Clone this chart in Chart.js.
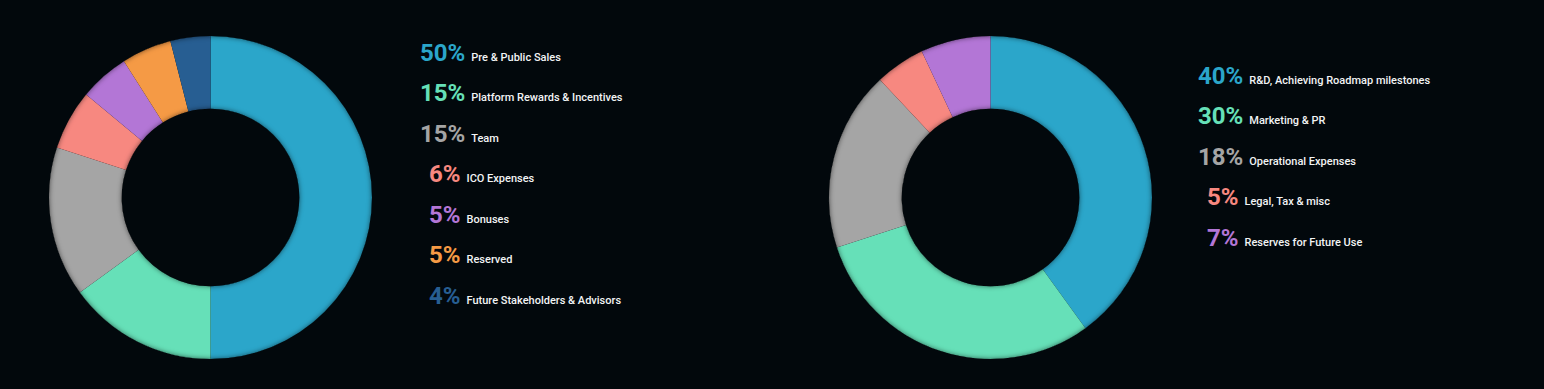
<!DOCTYPE html>
<html>
<head>
<meta charset="utf-8">
<script src="https://cdn.jsdelivr.net/npm/chart.js@4.4.0/dist/chart.umd.min.js"></script>
<style>
	html, body {
		margin: 0;
		padding: 0;
		background: #02080c;
		width: 1544px;
		height: 389px;
		overflow: hidden;
		font-family: Roboto, "Open Sans", sans-serif;
	}
	.donut {
		position: absolute;
		width: 343px;
		height: 343px;
	}
	.legend {
		position: absolute;
	}
	.row {
		height: 40.5px;
		line-height: 40.5px;
		white-space: nowrap;
	}
	.pct {
		font-size: 24px;
		font-weight: 700;
	}
	.row.single .pct {
		margin-left: 9px;
	}
	.lbl {
		font-size: 11px;
		font-weight: 500;
		color: #f2f4f5;
		margin-left: 6px;
	}
</style>
</head>
<body>
<div class="donut" style="left:39px; top:26px;"><canvas id="tokenChart"></canvas></div>
<div class="legend" id="tokenLegend" style="left:420px; top:32.5px;"></div>
<div class="donut" style="left:819px; top:26px;"><canvas id="fundsChart"></canvas></div>
<div class="legend" id="fundsLegend" style="left:1198px; top:55.5px;"></div>

<script>
// Token distribution (left)
var tokenLabels = ["Pre & Public Sales", "Platform Rewards & Incentives", "Team", "ICO Expenses", "Bonuses", "Reserved", "Future Stakeholders & Advisors"];
var tokenValues = [50, 15, 15, 6, 5, 5, 4];
var tokenColors = ["#2ba6ca", "#66e0b8", "#a5a5a5", "#f78880", "#b376d6", "#f59a45", "#275e92"];

// Use of funds (right)
var fundsLabels = ["R&D, Achieving Roadmap milestones", "Marketing & PR", "Operational Expenses", "Legal, Tax & misc", "Reserves for Future Use"];
var fundsValues = [40, 30, 18, 5, 7];
var fundsColors = ["#2ba6ca", "#66e0b8", "#a5a5a5", "#f78880", "#b376d6"];

// soft inset shadow along the ring edges
const ringShadow = {
	id: "ringShadow",
	afterDatasetsDraw(chart) {
		var arc = chart.getDatasetMeta(0).data[0];
		if (!arc) return;
		var p = arc.getProps(["x", "y", "outerRadius", "innerRadius"], true);
		var ctx = chart.ctx;
		ctx.save();
		ctx.beginPath();
		ctx.arc(p.x, p.y, p.outerRadius, 0, Math.PI * 2);
		ctx.arc(p.x, p.y, p.innerRadius, 0, Math.PI * 2, true);
		ctx.clip();
		ctx.shadowColor = "rgba(0, 0, 0, 0.55)";
		ctx.shadowBlur = 5;
		ctx.strokeStyle = "#000";
		ctx.lineWidth = 12;
		ctx.beginPath();
		ctx.arc(p.x, p.y, p.outerRadius + 6, 0, Math.PI * 2);
		ctx.stroke();
		ctx.beginPath();
		ctx.arc(p.x, p.y, Math.max(p.innerRadius - 6, 0), 0, Math.PI * 2);
		ctx.stroke();
		ctx.restore();
	},
};

function makeDonut(id, labels, values, colors) {
	return new Chart(document.getElementById(id), {
		type: "doughnut",
		data: {
			labels: labels,
			datasets: [
				{
					data: values,
					backgroundColor: colors,
					borderWidth: 0,
					hoverOffset: 0,
				},
			],
		},
		options: {
			responsive: true,
			maintainAspectRatio: false,
			animation: false,
			cutout: "55%",
			layout: {
				padding: 10,
			},
			plugins: {
				legend: { display: false },
				tooltip: { enabled: false },
			},
		},
		plugins: [ringShadow],
	});
}

function buildLegend(id, labels, values, colors) {
	var el = document.getElementById(id);
	labels.forEach((label, i) => {
		var row = document.createElement("div");
		row.className = "row" + (values[i] < 10 ? " single" : "");
		var pct = document.createElement("span");
		pct.className = "pct";
		pct.style.color = colors[i];
		pct.textContent = values[i] + "%";
		var lbl = document.createElement("span");
		lbl.className = "lbl";
		lbl.textContent = label;
		row.appendChild(pct);
		row.appendChild(lbl);
		el.appendChild(row);
	});
}

makeDonut("tokenChart", tokenLabels, tokenValues, tokenColors);
makeDonut("fundsChart", fundsLabels, fundsValues, fundsColors);
buildLegend("tokenLegend", tokenLabels, tokenValues, tokenColors);
buildLegend("fundsLegend", fundsLabels, fundsValues, fundsColors);
</script>
</body>
</html>
